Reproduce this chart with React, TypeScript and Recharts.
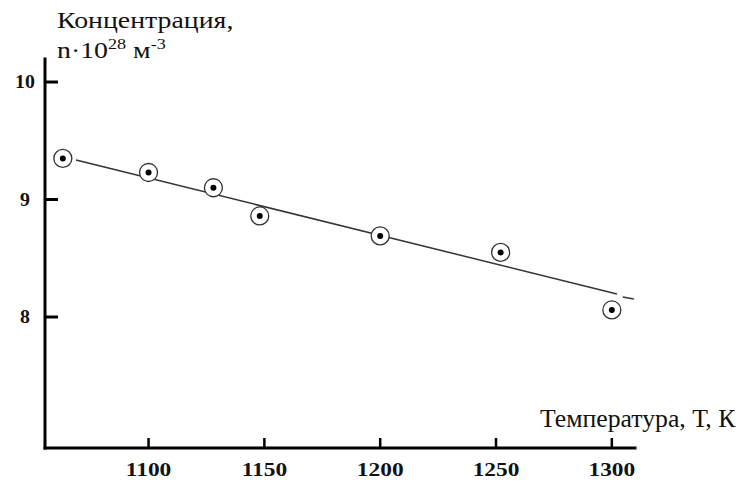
import { ScatterChart, Scatter, XAxis, YAxis } from "recharts";

// measured points: temperature (K) and carrier concentration (x10^28 m^-3)
const temps = [1063, 1100, 1128, 1148, 1200, 1252, 1300];
const conc = [9.35, 9.23, 9.1, 8.86, 8.69, 8.55, 8.06];

// linear fit, drawn as a long stroke and a short dash at the end
const fitT = [1068.7, 1302.2];
const fitN = [9.336, 8.196];
const dashT = [1304.7, 1309.5];
const dashN = [8.17, 8.153];

const xTicks = [1100, 1150, 1200, 1250, 1300];
const yTicks = [8, 9, 10];

const toRows = (xs: number[], ys: number[]) =>
  xs.map((t, i) => ({ t, n: ys[i] }));

const points = toRows(temps, conc);
const fitLine = toRows(fitT, fitN);
const fitDash = toRows(dashT, dashN);

const SERIF = "Liberation Serif, DejaVu Serif, serif";
const INK = "#000";

// the lettering is a little wide, so text is stretched horizontally
const at = (x: number, y: number, sx: number) =>
  `translate(${x} ${y}) scale(${sx} 1)`;

// circled dot marker
const Marker = (props: any) => {
  const { cx, cy } = props;
  if (cx == null || cy == null) return <g />;
  return (
    <g>
      <circle cx={cx} cy={cy} r={9} fill="#fff" stroke="#333" strokeWidth={1.3} />
      <circle cx={cx} cy={cy} r={3} fill="#000" />
    </g>
  );
};

const NoShape = () => <g />;

// y ticks point inwards, labels sit left of the axis
const YTick = (props: any) => {
  const { x, y, payload } = props;
  return (
    <g>
      <line x1={x} x2={x + 13} y1={y} y2={y} stroke={INK} strokeWidth={3} />
      <text
        transform={at(x - 20, y + 6, 1.1)}
        textAnchor="middle"
        fontFamily={SERIF}
        fontWeight={700}
        fontSize={18}
        fill="#111">
        {payload.value}
      </text>
    </g>
  );
};

const XTick = (props: any) => {
  const { x, y, payload } = props;
  return (
    <g>
      <line x1={x} x2={x} y1={y} y2={y - 10} stroke={INK} strokeWidth={2.5} />
      <text
        transform={at(x, y + 28, 1.3)}
        textAnchor="middle"
        fontFamily={SERIF}
        fontWeight={700}
        fontSize={18}
        fill="#111">
        {payload.value}
      </text>
    </g>
  );
};

export default function App() {
  return (
    <div
      style={{
        position: "absolute",
        left: 0,
        top: 0,
        width: 748,
        height: 483,
        background: "#fff",
      }}>
      <ScatterChart
        width={748}
        height={483}
        margin={{ top: 59, right: 113, left: 0, bottom: 0 }}>
        <XAxis
          type="number"
          dataKey="t"
          domain={[1055.3, 1310]}
          ticks={xTicks}
          height={35}
          tickSize={0}
          tickMargin={0}
          tickLine={false}
          axisLine={{ stroke: INK, strokeWidth: 3, strokeLinecap: "square" }}
          tick={<XTick />}
          allowDataOverflow
        />
        <YAxis
          type="number"
          dataKey="n"
          domain={[6.885, 10.196]}
          ticks={yTicks}
          width={45}
          tickSize={0}
          tickMargin={0}
          tickLine={false}
          axisLine={{ stroke: INK, strokeWidth: 3, strokeLinecap: "square" }}
          tick={<YTick />}
          allowDataOverflow
        />
        <Scatter
          data={fitLine}
          line={{ stroke: "#333", strokeWidth: 1.5 }}
          shape={<NoShape />}
          isAnimationActive={false}
        />
        <Scatter
          data={fitDash}
          line={{ stroke: "#333", strokeWidth: 1.5 }}
          shape={<NoShape />}
          isAnimationActive={false}
        />
        <Scatter data={points} shape={<Marker />} isAnimationActive={false} />
      </ScatterChart>

      <svg
        width={748}
        height={483}
        style={{ position: "absolute", left: 0, top: 0, pointerEvents: "none" }}>
        <text transform={at(57, 28, 1.21)} fontFamily={SERIF} fontSize={23} fill="#111">
          Концентрация,
        </text>
        <text transform={at(57, 58, 1.21)} fontFamily={SERIF} fontSize={23} fill="#111">
          n·10
          <tspan dy={-9} fontSize={15}>
            28
          </tspan>
          <tspan dy={9}> м</tspan>
          <tspan dy={-9} fontSize={15}>
            -3
          </tspan>
        </text>
        <text transform={at(540, 427, 1.03)} fontFamily={SERIF} fontSize={25} fill="#111">
          Температура, Т, К
        </text>
      </svg>
    </div>
  );
}
